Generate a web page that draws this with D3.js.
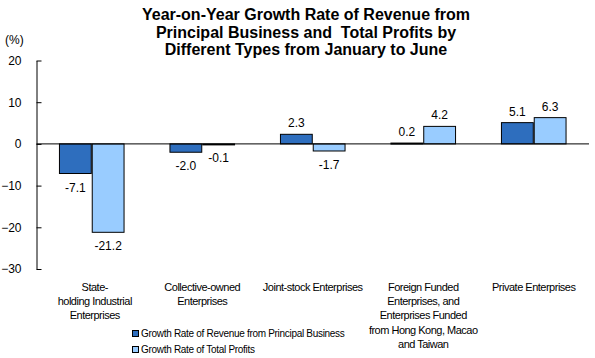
<!DOCTYPE html>
<html>
<head>
<meta charset="utf-8">
<script src="https://cdn.jsdelivr.net/npm/d3@7"></script>
<style>
  html, body { margin: 0; padding: 0; background: #fff; }
  svg { display: block; font-family: "Liberation Sans", Arial, sans-serif; }
</style>
</head>
<body>
<svg id="chart" width="595" height="358"></svg>
<script>
const categories = [
  ["State-", "holding Industrial", "Enterprises"],
  ["Collective-owned", "Enterprises"],
  ["Joint-stock Enterprises"],
  ["Foreign Funded", "Enterprises, and", "Enterprises Funded", "from Hong Kong, Macao", "and Taiwan"],
  ["Private Enterprises"]
];
const revenueGrowth = [-7.1, -2.0, 2.3, 0.2, 5.1];
const profitGrowth = [-21.2, -0.1, -1.7, 4.2, 6.3];
const seriesNames = ["Growth Rate of Revenue from Principal Business", "Growth Rate of Total Profits"];
const yTicks = [20, 10, 0, -10, -20, -30];
const titleLines = [
  "Year-on-Year Growth Rate of Revenue from",
  "Principal Business and  Total Profits by",
  "Different Types from January to June"
];

(function () {
const colors = ["#2E6EBE", "#99CCFF"];
const svg = d3.select("#chart");

const mLeft = 36.5, mRight = 589, mTop = 60.5, mBottom = 269;
const x = d3.scaleBand().domain(d3.range(categories.length)).range([mLeft, mRight]).paddingInner(0).paddingOuter(0);
const y = d3.scaleLinear().domain([-30, 20]).range([mBottom, mTop]);

// title
svg.append("g").selectAll("text").data(titleLines).join("text")
  .attr("x", 306).attr("y", (d, i) => 20 + i * 17.5)
  .attr("text-anchor", "middle")
  .style("font-weight", "bold").style("font-size", "16px").style("fill", "#000")
  .style("white-space", "pre")
  .text(d => d);

// unit
svg.append("text").attr("x", 5).attr("y", 44).style("font-size", "12px").text("(%)");

// y axis
const yAxis = d3.axisLeft(y).tickValues(yTicks).tickSizeInner(-5).tickSizeOuter(0).tickPadding(15).tickFormat(d3.format("d"));
const gy = svg.append("g").attr("transform", `translate(${mLeft},0)`).call(yAxis);
gy.select(".domain").attr("stroke", "#000");
gy.selectAll(".tick line").attr("stroke", "#000");
gy.selectAll(".tick text").style("font-size", "12px").style("font-family", "Liberation Sans, Arial, sans-serif").attr("fill", "#000");

// bars
const inner = d3.scaleBand().domain([0, 1]).range([0, x.bandwidth()]).paddingInner(0.03).paddingOuter(0.7);
const series = [revenueGrowth, profitGrowth];
series.forEach((vals, s) => {
  const g = svg.append("g");
  g.selectAll("rect").data(vals).join("rect")
    .attr("x", (d, i) => x(i) + inner(s))
    .attr("y", d => y(Math.max(0, d)))
    .attr("width", inner.bandwidth())
    .attr("height", d => Math.max(1, Math.abs(y(d) - y(0))))
    .attr("fill", colors[s])
    .attr("stroke", "#000").attr("stroke-width", 1);
  g.selectAll("text").data(vals).join("text")
    .attr("x", (d, i) => x(i) + inner(s) + inner.bandwidth() / 2)
    .attr("y", d => d >= 0 ? y(d) - 7 : y(d) + 18)
    .attr("text-anchor", "middle")
    .style("font-size", "12px")
    .text(d => d.toFixed(1));
});

// zero line
svg.append("line").attr("x1", mLeft).attr("x2", mRight).attr("y1", y(0)).attr("y2", y(0)).attr("stroke", "#000");

// category labels
const cg = svg.append("g");
categories.forEach((lines, i) => {
  const t = cg.append("text").attr("text-anchor", "middle").style("font-size", "11px").style("letter-spacing", "-0.5px");
  lines.forEach((ln, j) => {
    t.append("tspan").attr("x", x(i) + x.bandwidth() / 2 + (i === 0 ? 3 : 0)).attr("y", 291 + j * 14.2).text(ln);
  });
});

// legend
const lg = svg.append("g");
seriesNames.forEach((name, s) => {
  lg.append("rect").attr("x", 132.5).attr("y", 330.5 + s * 16).attr("width", 6).attr("height", 6)
    .attr("fill", colors[s]).attr("stroke", "#000");
  lg.append("text").attr("x", 141).attr("y", 337 + s * 16).style("font-size", "10px").style("letter-spacing", "-0.3px").text(name);
});
})();
</script>
</body>
</html>
